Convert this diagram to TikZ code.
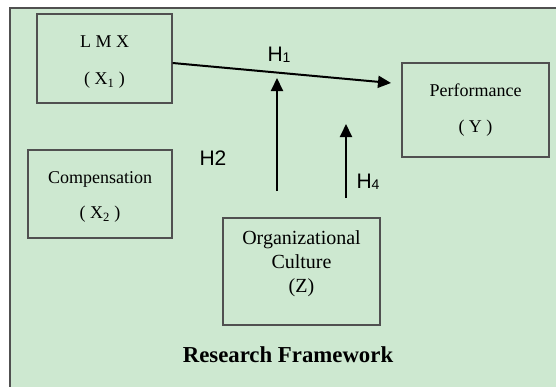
\documentclass[tikz,border=0pt]{standalone}
\usepackage{fontspec}
\setmainfont{Liberation Serif}
\newfontfamily\hsans{Liberation Sans}
\usetikzlibrary{arrows.meta}
\definecolor{bggreen}{RGB}{205,232,208}
\definecolor{frame}{RGB}{80,80,80}
\tikzset{
  box/.style={draw=frame, line width=1.3pt, fill=none, align=center, inner sep=0pt,
    font=\fontsize{18}{21}\selectfont},
  hlab/.style={font=\hsans\fontsize{21}{23}\selectfont, inner sep=0pt},
  arr/.style={line width=2pt, -{Triangle[length=13pt,width=12pt]}},
}
\begin{document}
\begin{tikzpicture}[x=1pt,y=-1pt]
\useasboundingbox (0,0) rectangle (556,386);
\clip (0,0) rectangle (556,386);
\fill[white] (0,0) rectangle (556,386);
\draw[frame, fill=bggreen, line width=1.3pt] (10,8) rectangle (570,400);
\node[box, minimum width=135, minimum height=89] (lmx) at (104.5,58.5) {};
\node[align=center, font=\fontsize{18}{21}\selectfont, inner sep=0pt] (lmxtxt) at (104.5,62) {L M X\\[16pt]( X\textsubscript{1} )};
\node[box, minimum width=144, minimum height=88] (comp) at (100,194) {};
\node[align=center, font=\fontsize{18}{21}\selectfont, inner sep=0pt] (comptxt) at (100,197) {Compensation\\[14pt]( X\textsubscript{2} )};
\node[box, minimum width=147, minimum height=94] (perf) at (475.5,110) {Performance\\[15pt]( Y )};
\node[box, minimum width=157, minimum height=107] (org) at (301.5,271.5) {};
\node[align=center, font=\fontsize{20}{24}\selectfont, inner sep=0pt] (orgtxt) at (301.5,264) {Organizational\\Culture\\(Z)};
\node[font=\bfseries\fontsize{22.8}{24}\selectfont, inner sep=0pt] (title) at (288,355) {Research Framework};
\node[hlab] (h1) at (279,55) {H\raisebox{-1pt}{\fontsize{14}{14}\selectfont 1}};
\node[hlab] (h2) at (213,158) {H2};
\node[hlab] (h4) at (368,182) {H\raisebox{-1pt}{\fontsize{14}{14}\selectfont 4}};
\coordinate (h1end) at (391,83);
\draw[arr] ([yshift=-4.5pt]lmx.east) -- (h1end);
\coordinate (a1s) at (277,191);
\coordinate (a1e) at (277,78);
\coordinate (a2s) at (346,198);
\coordinate (a2e) at (346,124);
\draw[arr] (a1s) -- (a1e);
\draw[arr] (a2s) -- (a2e);
\end{tikzpicture}
\end{document}
